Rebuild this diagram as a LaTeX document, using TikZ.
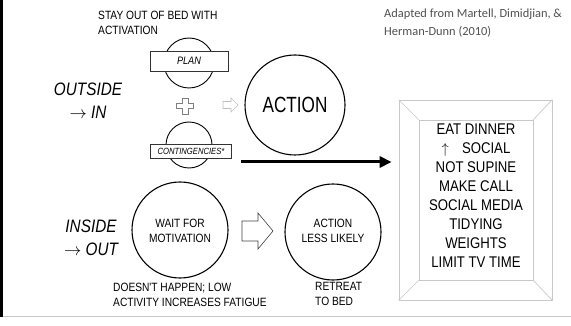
\documentclass[tikz,border=0pt]{standalone}
\usepackage{fontspec}
\setmainfont{Liberation Sans}
\newfontfamily\nar[FakeStretch=0.85]{Liberation Sans}
\newfontfamily\narx[FakeStretch=0.78]{Liberation Sans}
\newfontfamily\citefont{Carlito}
\usetikzlibrary{arrows.meta}
\definecolor{citegray}{RGB}{80,80,80}
\definecolor{framegray}{RGB}{200,200,200}
\begin{document}
\begin{tikzpicture}[x=1pt,y=-1pt,
  txt/.style={inner sep=0, align=center, font=\nar\fontsize{12}{15}\selectfont},
  ring/.style={circle, draw, line width=1.1pt, inner sep=0},
  tag/.style={draw=black!80, fill=white, line width=0.6pt, inner sep=0},
  bigtxt/.style={inner sep=0, align=center, font=\nar\itshape\fontsize{18}{23}\selectfont},
  boxtxt/.style={inner sep=0, align=center, font=\nar\fontsize{15.5}{19}\selectfont}]
\useasboundingbox (0,0) rectangle (571,326);
% frame
\draw[line width=2.5pt] (1.25,0) -- (1.25,317);
\draw[framegray, line width=0.8pt] (2.5,316) -- (571,316);
% citation
\node[inner sep=0, anchor=west, align=left, text=citegray, font=\citefont\fontsize{12.4}{18}\selectfont] (cite) at (384,23) {Adapted from Martell, Dimidjian, \&\\Herman-Dunn (2010)};
% top text
\node[txt, anchor=west, align=left] (stay) at (98,22.5) {STAY OUT OF BED WITH\\ACTIVATION};
% outside in
\node[bigtxt] (outin) at (88,101) {OUTSIDE\\$\rightarrow$ IN};
\node[bigtxt] (inout) at (91,238) {INSIDE\\$\rightarrow$ OUT};
% plan and contingencies
\node[ring, line width=0.9pt, minimum size=50pt] (plancirc) at (189,63) {};
\node[tag, minimum width=78pt, minimum height=20pt, font=\nar\itshape\fontsize{10.8}{12}\selectfont] (plan) at (189,61) {PLAN};
\node[ring, line width=0.9pt, minimum size=46pt] (contcirc) at (189,145) {};
\node[tag, minimum width=81pt, minimum height=14pt, font=\nar\itshape\fontsize{9}{10}\selectfont] (cont) at (191,151) {CONTINGENCIES*};
% plus
\draw[gray, line width=0.6pt, shift={(185,106)}]
  (-2.8,-8) -- (2.8,-8) -- (2.8,-2.7) -- (8.5,-2.7) -- (8.5,2.7) -- (2.8,2.7) -- (2.8,8)
  -- (-2.8,8) -- (-2.8,2.7) -- (-8.5,2.7) -- (-8.5,-2.7) -- (-2.8,-2.7) -- cycle;
% small arrow
\draw[black!25, line width=0.6pt, shift={(223,105)}]
  (0,-3.5) -- (8,-3.5) -- (8,-7) -- (15,0) -- (8,7) -- (8,3.5) -- (0,3.5) -- cycle;
% action
\node[ring, minimum size=100pt, font=\narx\fontsize{22}{26}\selectfont] (action) at (295,105) {ACTION};
% box
\node[draw=framegray, line width=0.7pt, minimum width=153pt, minimum height=200pt, inner sep=0] (box) at (475.5,200) {};
\node[draw=framegray, line width=0.7pt, minimum width=114pt, minimum height=160pt, inner sep=0] (inner) at (476,200) {};
\draw[framegray, line width=0.7pt] (box.north west) -- (inner.north west)
  (box.north east) -- (inner.north east)
  (box.south west) -- (inner.south west)
  (box.south east) -- (inner.south east);
\node[boxtxt] (list) at (476,196) {EAT DINNER\\$\uparrow$\hspace{0.85em}SOCIAL\\NOT SUPINE\\MAKE CALL\\SOCIAL MEDIA\\TIDYING\\WEIGHTS\\LIMIT TV TIME};
% main arrow
\coordinate (astart) at (241,162);
\draw[line width=3pt, -{Triangle[length=12pt,width=11pt]}] (astart) -- ([xshift=-7pt]box.west |- astart);
% inside out row
\node[ring, minimum size=96pt] (wait) at (180,230) {};
\node[txt] (waittxt) at (180,231) {WAIT FOR\\MOTIVATION};
\draw[black!75, line width=0.6pt, shift={(242,231)}]
  (0,-10) -- (16,-10) -- (16,-18) -- (31,0) -- (16,18) -- (16,10) -- (0,10) -- cycle;
\node[ring, minimum size=96pt] (less) at (333,232) {};
\node[txt] (lesstxt) at (333,231) {ACTION\\LESS LIKELY};
\node[txt, anchor=west, align=left] (doesnt) at (113,294.5) {DOESN'T HAPPEN; LOW\\ACTIVITY INCREASES FATIGUE};
\node[txt, anchor=west, align=left] (retreat) at (315,294) {RETREAT\\TO BED};
\end{tikzpicture}
\end{document}
